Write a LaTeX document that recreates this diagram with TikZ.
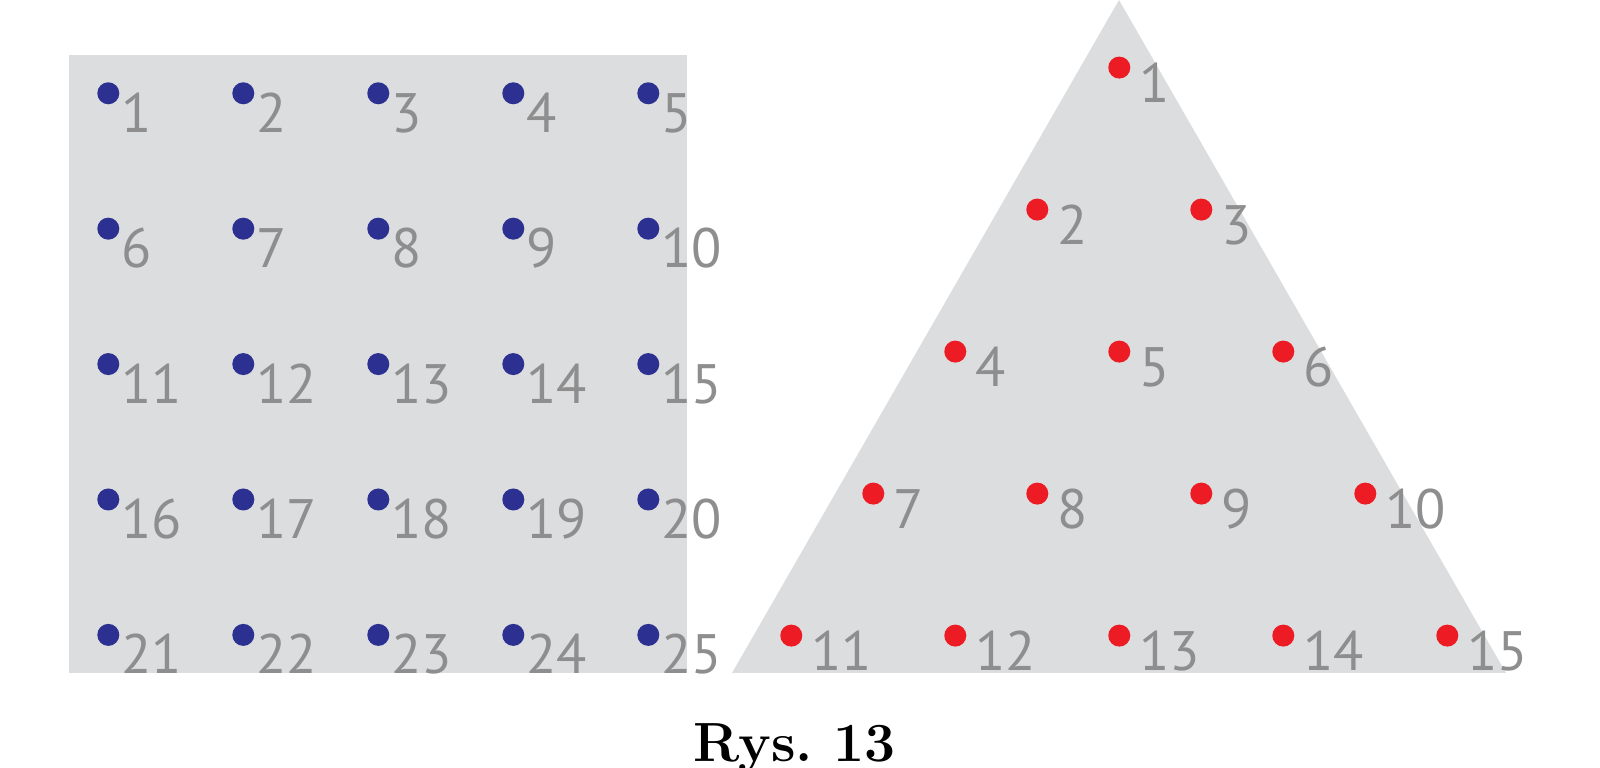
\documentclass[tikz,border=0pt]{standalone}
\usepackage{fontspec}
\newfontfamily\lblfont{PT Sans}
\definecolor{bgray}{RGB}{220,221,222}
\definecolor{dblue}{RGB}{43,48,145}
\definecolor{dred}{RGB}{237,28,36}
\definecolor{lgray}{RGB}{142,142,142}
\tikzset{
  bdot/.style={circle,fill=dblue,inner sep=0pt,minimum size=2.2mm},
  rdot/.style={circle,fill=dred,inner sep=0pt,minimum size=2.2mm},
  numlbl/.style={anchor=base west,inner sep=0pt,text=lgray,font=\lblfont\fontsize{15.8}{18}\selectfont},
  bgshape/.style={fill=bgray,draw=none}
}
\begin{document}
\begin{tikzpicture}[x=0.01cm,y=-0.01cm]
\useasboundingbox (0,0) rectangle (1600,768);
% square
\path[bgshape] (69,55) rectangle (687,673);
% triangle
\coordinate (tA) at (1119,0);
\coordinate (tB) at (732,673);
\coordinate (tC) at (1506,673);
\path[bgshape] (tA) -- (tB) -- (tC) -- cycle;
% blue grid
\foreach \r in {0,...,4}{
  \foreach \c in {0,...,4}{
    \pgfmathtruncatemacro\n{5*\r+\c+1}
    \pgfmathsetmacro\xx{108.3+135*\c}
    \pgfmathsetmacro\yy{93.3+135.4*\r}
    \node[bdot] (b\n) at (\xx,\yy) {};
    \node[numlbl] (bl\n) at ([shift={(12,39)}]\xx,\yy) {\n};
  }
}
% red triangle
\foreach \r in {0,...,4}{
  \foreach \k in {0,...,\r}{
    \pgfmathtruncatemacro\n{\r*(\r+1)/2+\k+1}
    \pgfmathsetmacro\xx{1119.3+164*(\k-\r/2)}
    \pgfmathsetmacro\yy{67.6+142*\r}
    \node[rdot] (r\n) at (\xx,\yy) {};
    \node[numlbl] (rl\n) at ([shift={(19,35)}]\xx,\yy) {\n};
  }
}
% caption
\node[anchor=base,inner sep=0pt,font=\bfseries\fontsize{15.7}{18}\selectfont] (cap) at (795,762) {Rys.\ 13};
\end{tikzpicture}
\end{document}
